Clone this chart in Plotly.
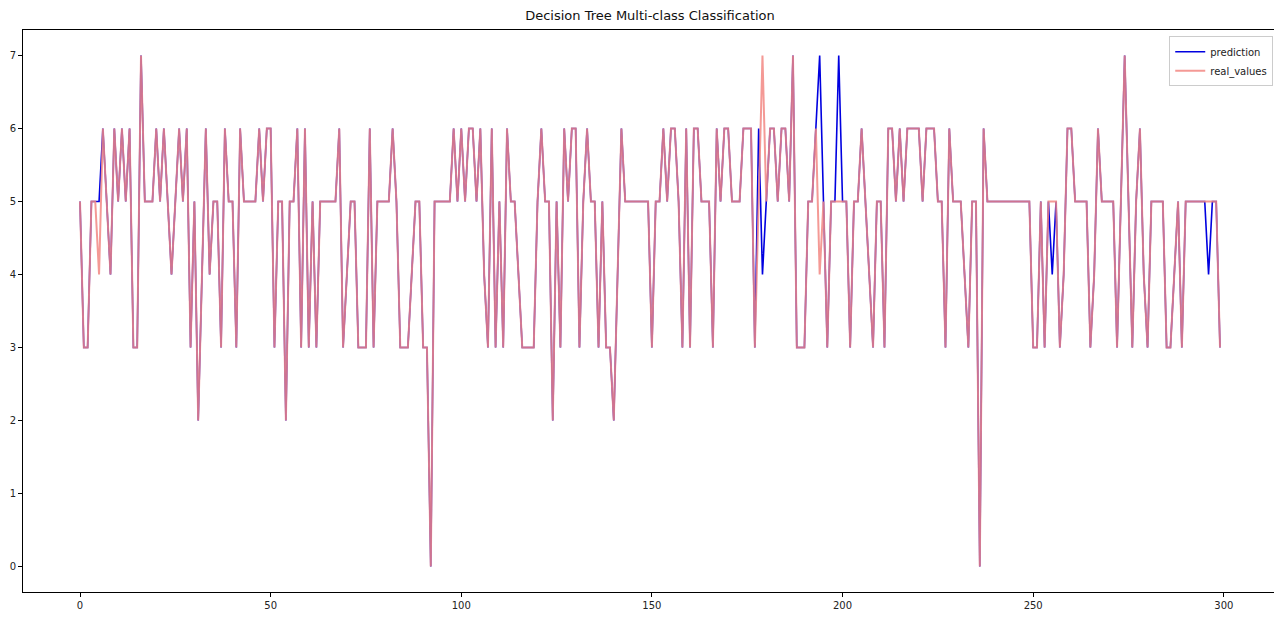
import plotly.graph_objects as go

# real values (index 0..299)
real_values = [
    5, 3, 3, 5, 5, 4, 6, 5, 4, 6,
    5, 6, 5, 6, 3, 3, 7, 5, 5, 5,
    6, 5, 6, 5, 4, 5, 6, 5, 6, 3,
    5, 2, 4, 6, 4, 5, 5, 3, 6, 5,
    5, 3, 6, 5, 5, 5, 5, 6, 5, 6,
    6, 3, 5, 5, 2, 5, 5, 6, 3, 6,
    3, 5, 3, 5, 5, 5, 5, 5, 6, 3,
    4, 5, 5, 3, 3, 3, 6, 3, 5, 5,
    5, 5, 6, 5, 3, 3, 3, 4, 5, 5,
    3, 3, 0, 5, 5, 5, 5, 5, 6, 5,
    6, 5, 6, 6, 5, 6, 4, 3, 6, 3,
    5, 3, 6, 5, 5, 4, 3, 3, 3, 3,
    5, 6, 5, 5, 2, 5, 3, 6, 5, 6,
    6, 3, 5, 6, 5, 5, 3, 5, 3, 3,
    2, 4, 6, 5, 5, 5, 5, 5, 5, 5,
    3, 5, 5, 6, 5, 6, 6, 5, 3, 6,
    3, 6, 6, 5, 5, 5, 3, 6, 5, 6,
    6, 5, 5, 5, 6, 6, 6, 3, 5, 7,
    5, 6, 6, 5, 6, 6, 5, 7, 3, 3,
    3, 5, 5, 6, 4, 5, 3, 5, 5, 5,
    5, 5, 3, 5, 5, 6, 5, 4, 3, 5,
    5, 3, 6, 6, 5, 6, 5, 6, 6, 6,
    6, 5, 6, 6, 6, 5, 5, 3, 6, 5,
    5, 5, 4, 3, 5, 5, 0, 6, 5, 5,
    5, 5, 5, 5, 5, 5, 5, 5, 5, 5,
    3, 3, 5, 3, 5, 5, 5, 3, 4, 6,
    6, 5, 5, 5, 5, 3, 4, 6, 5, 5,
    5, 5, 3, 5, 7, 5, 3, 5, 6, 4,
    3, 5, 5, 5, 5, 3, 3, 4, 5, 3,
    5, 5, 5, 5, 5, 5, 5, 5, 5, 3,
]

# predictions: identical to real values except where the blue line departs
prediction = [
    5, 3, 3, 5, 5, 5, 6, 5, 4, 6,
    5, 6, 5, 6, 3, 3, 7, 5, 5, 5,
    6, 5, 6, 5, 4, 5, 6, 5, 6, 3,
    5, 2, 4, 6, 4, 5, 5, 3, 6, 5,
    5, 3, 6, 5, 5, 5, 5, 6, 5, 6,
    6, 3, 5, 5, 2, 5, 5, 6, 3, 6,
    3, 5, 3, 5, 5, 5, 5, 5, 6, 3,
    4, 5, 5, 3, 3, 3, 6, 3, 5, 5,
    5, 5, 6, 5, 3, 3, 3, 4, 5, 5,
    3, 3, 0, 5, 5, 5, 5, 5, 6, 5,
    6, 5, 6, 6, 5, 6, 4, 3, 6, 3,
    5, 3, 6, 5, 5, 4, 3, 3, 3, 3,
    5, 6, 5, 5, 2, 5, 3, 6, 5, 6,
    6, 3, 5, 6, 5, 5, 3, 5, 3, 3,
    2, 4, 6, 5, 5, 5, 5, 5, 5, 5,
    3, 5, 5, 6, 5, 6, 6, 5, 3, 6,
    3, 6, 6, 5, 5, 5, 3, 6, 5, 6,
    6, 5, 5, 5, 6, 6, 6, 3, 6, 4,
    5, 6, 6, 5, 6, 6, 5, 7, 3, 3,
    3, 5, 5, 6, 7, 5, 3, 5, 5, 7,
    5, 5, 3, 5, 5, 6, 5, 4, 3, 5,
    5, 3, 6, 6, 5, 6, 5, 6, 6, 6,
    6, 5, 6, 6, 6, 5, 5, 3, 6, 5,
    5, 5, 4, 3, 5, 5, 0, 6, 5, 5,
    5, 5, 5, 5, 5, 5, 5, 5, 5, 5,
    3, 3, 5, 3, 5, 4, 5, 3, 4, 6,
    6, 5, 5, 5, 5, 3, 4, 6, 5, 5,
    5, 5, 3, 5, 7, 5, 3, 5, 6, 4,
    3, 5, 5, 5, 5, 3, 3, 4, 5, 3,
    5, 5, 5, 5, 5, 5, 4, 5, 5, 3,
]

x_index = list(range(len(real_values)))
x_ticks = [0, 50, 100, 150, 200, 250, 300]
y_ticks = [0, 1, 2, 3, 4, 5, 6, 7]

fig = go.Figure()
fig.add_trace(go.Scatter(
    x=x_index, y=prediction, mode="lines", name="prediction",
    line=dict(color="#0000e0", width=1.6),
))
fig.add_trace(go.Scatter(
    x=x_index, y=real_values, mode="lines", name="real_values",
    line=dict(color="rgba(242,135,130,0.85)", width=2.0),
))

axis_common = dict(
    showline=True, linecolor="black", linewidth=1, mirror=True,
    ticks="outside", ticklen=4, tickcolor="black", showgrid=False,
    zeroline=False, automargin=False,
    tickfont=dict(family="DejaVu Sans", size=10, color="#222"),
)

# the page body adds an 8px offset; margins compensate for it
fig.update_layout(
    width=1282, height=619,
    margin=dict(l=15, r=13, t=22, b=35, autoexpand=False),
    paper_bgcolor="white", plot_bgcolor="white",
    title=dict(text="Decision Tree Multi-class Classification", x=0.5, xanchor="center",
               xref="paper", y=0.988, yanchor="middle", yref="container",
               font=dict(family="DejaVu Sans", size=13, color="#111"),
               automargin=False),
    xaxis=dict(range=[-14.95, 313.95], tickvals=x_ticks, **axis_common),
    yaxis=dict(range=[-0.35, 7.35], tickvals=y_ticks, **axis_common),
    legend=dict(x=0.997, y=0.989, xanchor="right", yanchor="top",
                bgcolor="white", bordercolor="#cccccc", borderwidth=1,
                font=dict(family="DejaVu Sans", size=10, color="#222"),
                tracegroupgap=0),
    showlegend=True,
)

fig.write_html("out.html")
